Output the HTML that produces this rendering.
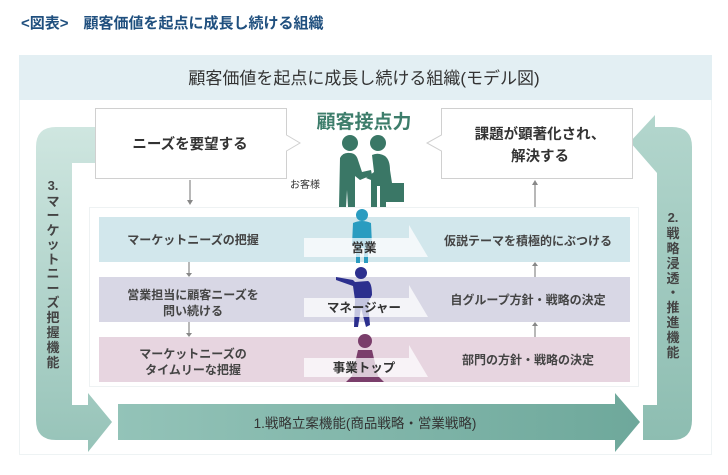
<!DOCTYPE html>
<html><head><meta charset="utf-8"><style>
html,body{margin:0;padding:0;background:#fff;}
svg{display:block;font-family:"Liberation Sans","Noto Sans CJK JP",sans-serif;}
</style></head><body>
<svg width="728" height="475" viewBox="0 0 728 475" xmlns="http://www.w3.org/2000/svg">
<defs>
<linearGradient id="gl" x1="0" y1="0" x2="0" y2="1"><stop offset="0" stop-color="#cfe6e0"/><stop offset="1" stop-color="#96c3b8"/></linearGradient>
<linearGradient id="gr" x1="0" y1="0" x2="0" y2="1"><stop offset="0" stop-color="#b3d6cd"/><stop offset="1" stop-color="#8dbdb1"/></linearGradient>
<linearGradient id="gb" x1="0" y1="0" x2="1" y2="0"><stop offset="0" stop-color="#93c3b8"/><stop offset="1" stop-color="#6ea89b"/></linearGradient>
</defs>
<text x="21" y="28" font-size="15" font-weight="bold" fill="#1f4f7e">&lt;図表&gt;　顧客価値を起点に成長し続ける組織</text>
<rect x="19.5" y="55.5" width="692" height="399" fill="#fff" stroke="#eef3f4"/>
<rect x="19" y="55" width="693" height="45" fill="#e3eff3"/>
<text x="364" y="84" font-size="17" fill="#333" text-anchor="middle">顧客価値を起点に成長し続ける組織(モデル図)</text>
<path d="M36 147 Q36 127 56 127 L96 127 L96 163 L72 163 L72 405 L88 405 L88 393 L112 422 L88 452 L88 440 L56 440 Q36 440 36 420 Z" fill="url(#gl)"/>
<path d="M630 142 L655 115 L655 127 L672 127 Q692 127 692 147 L692 420 Q692 440 672 440 L643 440 L643 405 L657 405 L657 173 Z" fill="url(#gr)"/>
<path d="M118 404 L615 404 L615 393 L640 422 L615 452 L615 440 L118 440 Z" fill="url(#gb)"/>
<text x="365" y="428" font-size="13.5" fill="#333" text-anchor="middle">1.戦略立案機能(商品戦略・営業戦略)</text>
<g font-size="13" font-weight="bold" fill="#444" text-anchor="middle">
<text x="53" y="190">3.</text>
<text x="53" y="206">マ</text><text x="53" y="220">ー</text><text x="53" y="235">ケ</text><text x="53" y="249">ッ</text><text x="53" y="264">ト</text><text x="53" y="278">ニ</text><text x="53" y="293">ー</text><text x="53" y="307">ズ</text><text x="53" y="322">把</text><text x="53" y="337">握</text><text x="53" y="352">機</text><text x="53" y="367">能</text>
<text x="673" y="222">2.</text>
<text x="673" y="238">戦</text><text x="673" y="253">略</text><text x="673" y="268">浸</text><text x="673" y="283">透</text><text x="673" y="297">・</text><text x="673" y="312">推</text><text x="673" y="327">進</text><text x="673" y="342">機</text><text x="673" y="357">能</text>
</g>
<path d="M95.5 108.5 L286.5 108.5 L286.5 135 L300 143 L286.5 151 L286.5 178.5 L95.5 178.5 Z" fill="#fff" stroke="#d0d0d0"/>
<text x="190" y="149" font-size="14.5" font-weight="bold" fill="#333" text-anchor="middle">ニーズを要望する</text>
<path d="M441.5 108.5 L632.5 108.5 L632.5 178.5 L441.5 178.5 L441.5 151 L427 143 L441.5 135 Z" fill="#fff" stroke="#d0d0d0"/>
<text x="540" y="139" font-size="14.5" font-weight="bold" fill="#333" text-anchor="middle">課題が顕著化され、</text>
<text x="540" y="161" font-size="14.5" font-weight="bold" fill="#333" text-anchor="middle">解決する</text>
<text x="364" y="128" font-size="19" font-weight="bold" fill="#3d7d6b" text-anchor="middle">顧客接点力</text>
<text x="290" y="188" font-size="10" fill="#333">お客様</text>
<g fill="#3a7766">
<circle cx="350" cy="143" r="8"/><circle cx="378" cy="143" r="8"/>
<path d="M340 158 Q343 152 350 153 Q356 153 358 160 L362 172 L371 170 L372 175 L360 180 L355 176 L355 207 L348 207 L347 190 L346 207 L339 207 Z"/>
<path d="M372 155 Q378 152 385 156 Q390 160 390 170 L392 183 L386 183 L386 207 L380 207 L380 186 L377 186 L377 207 L371 207 L371 180 L366 178 L374 172 Z"/>
<rect x="380" y="183" width="24" height="19"/>
</g>
<line x1="190" y1="180" x2="190" y2="203" stroke="#888" stroke-width="1.2"/><path d="M187 200 L193 200 L190 205Z" fill="#888"/>
<line x1="535" y1="183" x2="535" y2="207" stroke="#888" stroke-width="1.2"/><path d="M532 185 L538 185 L535 180Z" fill="#888"/>
<rect x="89.5" y="207.5" width="549" height="179" fill="#fff" stroke="#eef2f3"/>
<rect x="99" y="217" width="531" height="45" fill="#d2e7ec"/>
<rect x="99" y="277" width="531" height="45" fill="#d8d7e5"/>
<rect x="99" y="337" width="531" height="45" fill="#e7d5e0"/>
<g stroke="#888" stroke-width="1.2"><line x1="189" y1="262" x2="189" y2="275"/><line x1="189" y1="322" x2="189" y2="335"/><line x1="535" y1="264" x2="535" y2="277"/><line x1="535" y1="324" x2="535" y2="337"/></g>
<g fill="#888"><path d="M186 273 L192 273 L189 277Z"/><path d="M186 333 L192 333 L189 337Z"/><path d="M532 266 L538 266 L535 262Z"/><path d="M532 326 L538 326 L535 322Z"/></g>
<g font-size="12" font-weight="bold" fill="#444" text-anchor="middle">
<text x="193" y="244">マーケットニーズの把握</text>
<text x="193" y="299">営業担当に顧客ニーズを</text><text x="193" y="315">問い続ける</text>
<text x="193" y="358">マーケットニーズの</text><text x="193" y="374">タイムリーな把握</text>
<text x="528" y="245">仮説テーマを積極的にぶつける</text>
<text x="528" y="304">自グループ方針・戦略の決定</text>
<text x="528" y="364">部門の方針・戦略の決定</text>
</g>
<g fill="#2a9cc0"><circle cx="362" cy="215" r="6"/><path d="M353 223 Q362 219 371 223 L372 245 L368 245 L368 263 L364 263 L364 248 L360 248 L360 263 L356 263 L356 245 L352 245Z"/></g>
<g fill="#2c2f8e"><circle cx="361" cy="273" r="6"/><path d="M336 277 L353 280 L355 282 L368 281 Q372 283 372 295 L368 303 L370 325 L366 327 L361 308 L358 327 L354 327 L355 300 L353 286 L336 280Z"/></g>
<g fill="#7a3e6b"><circle cx="365" cy="341" r="7"/><path d="M358 350 L372 350 L378 376 L384 382 L346 382 L352 376Z"/></g>
<g fill="#fff" fill-opacity="0.72">
<path d="M304 238 L409 238 L409 225 L428 257 L304 257Z"/>
<path d="M304 298 L409 298 L409 285 L428 317 L304 317Z"/>
<path d="M304 358 L409 358 L409 345 L428 377 L304 377Z"/>
</g>
<g font-size="12.5" font-weight="bold" fill="#333" text-anchor="middle">
<text x="364" y="252">営業</text>
<text x="364" y="312">マネージャー</text>
<text x="364" y="372">事業トップ</text>
</g>
</svg>
</body></html>
